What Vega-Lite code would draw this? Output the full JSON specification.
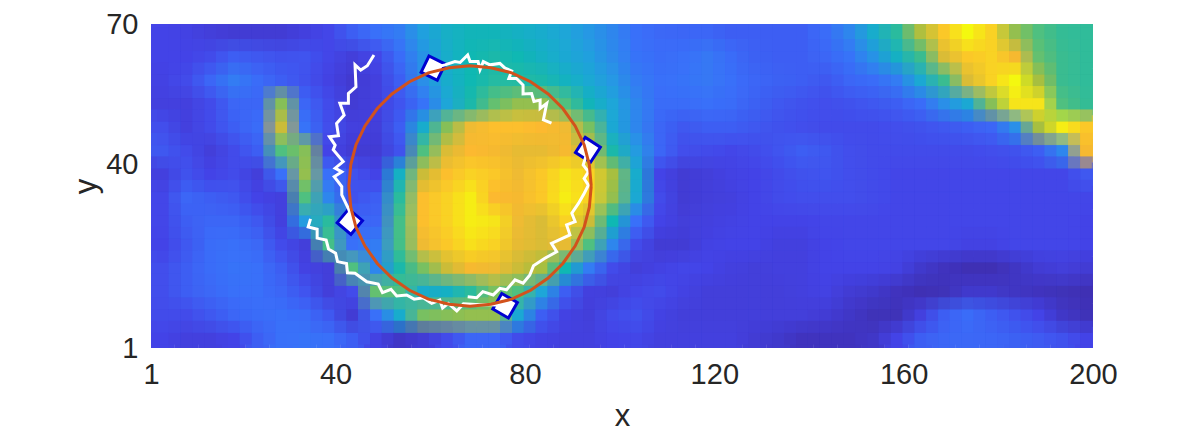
{"$schema":"https://vega.github.io/schema/vega-lite/v6.json","width":942,"height":324,"autosize":"none","padding":{"left":151,"top":24,"right":103,"bottom":85},"background":"white","config":{"view":{"stroke":null},"axis":{"grid":false,"domain":false,"ticks":false,"labelFont":"Liberation Sans","titleFont":"Liberation Sans","labelFontSize":29,"titleFontSize":31,"titleFontWeight":"normal","labelColor":"#262626","titleColor":"#262626","labelOverlap":false,"labelFlush":false}},
"datasets":{"heat":[
{"x":3.5,"y":68,"v":12},{"x":8.5,"y":68,"v":11},{"x":13.5,"y":68,"v":9},{"x":18.5,"y":68,"v":8},{"x":23.5,"y":68,"v":8},{"x":28.5,"y":68,"v":8},{"x":33.5,"y":68,"v":10},{"x":38.5,"y":68,"v":13},{"x":43.5,"y":68,"v":20},{"x":48.5,"y":68,"v":25},{"x":53.5,"y":68,"v":28},{"x":58.5,"y":68,"v":36},{"x":63.5,"y":68,"v":44},{"x":68.5,"y":68,"v":48},{"x":73.5,"y":68,"v":48},{"x":78.5,"y":68,"v":45},{"x":83.5,"y":68,"v":42},{"x":88.5,"y":68,"v":38},{"x":93.5,"y":68,"v":34},{"x":98.5,"y":68,"v":30},{"x":103.5,"y":68,"v":25},{"x":108.5,"y":68,"v":23},{"x":113.5,"y":68,"v":22},{"x":118.5,"y":68,"v":22},{"x":123.5,"y":68,"v":20},{"x":128.5,"y":68,"v":20},{"x":133.5,"y":68,"v":20},{"x":138.5,"y":68,"v":20},{"x":143.5,"y":68,"v":24},{"x":148.5,"y":68,"v":30},{"x":153.5,"y":68,"v":42},{"x":158.5,"y":68,"v":55},{"x":163.5,"y":68,"v":76},{"x":168.5,"y":68,"v":90},{"x":173.5,"y":68,"v":100},{"x":178.5,"y":68,"v":92},{"x":183.5,"y":68,"v":72},{"x":188.5,"y":68,"v":62},{"x":193.5,"y":68,"v":57},{"x":198.5,"y":68,"v":56},
{"x":3.5,"y":63,"v":12},{"x":8.5,"y":63,"v":12},{"x":13.5,"y":63,"v":14},{"x":18.5,"y":63,"v":20},{"x":23.5,"y":63,"v":18},{"x":28.5,"y":63,"v":16},{"x":33.5,"y":63,"v":17},{"x":38.5,"y":63,"v":13},{"x":43.5,"y":63,"v":9},{"x":48.5,"y":63,"v":13},{"x":53.5,"y":63,"v":24},{"x":58.5,"y":63,"v":33},{"x":63.5,"y":63,"v":43},{"x":68.5,"y":63,"v":50},{"x":73.5,"y":63,"v":52},{"x":78.5,"y":63,"v":50},{"x":83.5,"y":63,"v":45},{"x":88.5,"y":63,"v":40},{"x":93.5,"y":63,"v":36},{"x":98.5,"y":63,"v":31},{"x":103.5,"y":63,"v":26},{"x":108.5,"y":63,"v":24},{"x":113.5,"y":63,"v":25},{"x":118.5,"y":63,"v":27},{"x":123.5,"y":63,"v":24},{"x":128.5,"y":63,"v":21},{"x":133.5,"y":63,"v":20},{"x":138.5,"y":63,"v":20},{"x":143.5,"y":63,"v":22},{"x":148.5,"y":63,"v":26},{"x":153.5,"y":63,"v":33},{"x":158.5,"y":63,"v":45},{"x":163.5,"y":63,"v":58},{"x":168.5,"y":63,"v":82},{"x":173.5,"y":63,"v":90},{"x":178.5,"y":63,"v":92},{"x":183.5,"y":63,"v":86},{"x":188.5,"y":63,"v":65},{"x":193.5,"y":63,"v":58},{"x":198.5,"y":63,"v":56},
{"x":3.5,"y":58,"v":11},{"x":8.5,"y":58,"v":14},{"x":13.5,"y":58,"v":22},{"x":18.5,"y":58,"v":28},{"x":23.5,"y":58,"v":24},{"x":28.5,"y":58,"v":20},{"x":33.5,"y":58,"v":16},{"x":38.5,"y":58,"v":11},{"x":43.5,"y":58,"v":7},{"x":48.5,"y":58,"v":10},{"x":53.5,"y":58,"v":20},{"x":58.5,"y":58,"v":32},{"x":63.5,"y":58,"v":42},{"x":68.5,"y":58,"v":50},{"x":73.5,"y":58,"v":54},{"x":78.5,"y":58,"v":54},{"x":83.5,"y":58,"v":52},{"x":88.5,"y":58,"v":46},{"x":93.5,"y":58,"v":40},{"x":98.5,"y":58,"v":34},{"x":103.5,"y":58,"v":28},{"x":108.5,"y":58,"v":25},{"x":113.5,"y":58,"v":26},{"x":118.5,"y":58,"v":27},{"x":123.5,"y":58,"v":25},{"x":128.5,"y":58,"v":22},{"x":133.5,"y":58,"v":21},{"x":138.5,"y":58,"v":20},{"x":143.5,"y":58,"v":18},{"x":148.5,"y":58,"v":22},{"x":153.5,"y":58,"v":24},{"x":158.5,"y":58,"v":28},{"x":163.5,"y":58,"v":40},{"x":168.5,"y":58,"v":58},{"x":173.5,"y":58,"v":82},{"x":178.5,"y":58,"v":92},{"x":183.5,"y":58,"v":100},{"x":188.5,"y":58,"v":75},{"x":193.5,"y":58,"v":58},{"x":198.5,"y":58,"v":56},
{"x":3.5,"y":53,"v":10},{"x":8.5,"y":53,"v":10},{"x":13.5,"y":53,"v":14},{"x":18.5,"y":53,"v":22},{"x":23.5,"y":53,"v":22},{"x":28.5,"y":53,"v":70},{"x":33.5,"y":53,"v":22},{"x":38.5,"y":53,"v":14},{"x":43.5,"y":53,"v":8},{"x":48.5,"y":53,"v":10},{"x":53.5,"y":53,"v":17},{"x":58.5,"y":53,"v":26},{"x":63.5,"y":53,"v":38},{"x":68.5,"y":53,"v":52},{"x":73.5,"y":53,"v":65},{"x":78.5,"y":53,"v":72},{"x":83.5,"y":53,"v":72},{"x":88.5,"y":53,"v":62},{"x":93.5,"y":53,"v":48},{"x":98.5,"y":53,"v":38},{"x":103.5,"y":53,"v":30},{"x":108.5,"y":53,"v":24},{"x":113.5,"y":53,"v":24},{"x":118.5,"y":53,"v":25},{"x":123.5,"y":53,"v":24},{"x":128.5,"y":53,"v":21},{"x":133.5,"y":53,"v":18},{"x":138.5,"y":53,"v":16},{"x":143.5,"y":53,"v":15},{"x":148.5,"y":53,"v":16},{"x":153.5,"y":53,"v":18},{"x":158.5,"y":53,"v":20},{"x":163.5,"y":53,"v":24},{"x":168.5,"y":53,"v":32},{"x":173.5,"y":53,"v":40},{"x":178.5,"y":53,"v":70},{"x":183.5,"y":53,"v":96},{"x":188.5,"y":53,"v":96},{"x":193.5,"y":53,"v":62},{"x":198.5,"y":53,"v":57},
{"x":3.5,"y":48,"v":15},{"x":8.5,"y":48,"v":10},{"x":13.5,"y":48,"v":14},{"x":18.5,"y":48,"v":20},{"x":23.5,"y":48,"v":24},{"x":28.5,"y":48,"v":80},{"x":33.5,"y":48,"v":26},{"x":38.5,"y":48,"v":15},{"x":43.5,"y":48,"v":10},{"x":48.5,"y":48,"v":9},{"x":53.5,"y":48,"v":20},{"x":58.5,"y":48,"v":42},{"x":63.5,"y":48,"v":70},{"x":68.5,"y":48,"v":85},{"x":73.5,"y":48,"v":88},{"x":78.5,"y":48,"v":88},{"x":83.5,"y":48,"v":87},{"x":88.5,"y":48,"v":85},{"x":93.5,"y":48,"v":68},{"x":98.5,"y":48,"v":40},{"x":103.5,"y":48,"v":30},{"x":108.5,"y":48,"v":22},{"x":113.5,"y":48,"v":18},{"x":118.5,"y":48,"v":20},{"x":123.5,"y":48,"v":20},{"x":128.5,"y":48,"v":18},{"x":133.5,"y":48,"v":16},{"x":138.5,"y":48,"v":15},{"x":143.5,"y":48,"v":14},{"x":148.5,"y":48,"v":14},{"x":153.5,"y":48,"v":14},{"x":158.5,"y":48,"v":15},{"x":163.5,"y":48,"v":16},{"x":168.5,"y":48,"v":18},{"x":173.5,"y":48,"v":20},{"x":178.5,"y":48,"v":22},{"x":183.5,"y":48,"v":32},{"x":188.5,"y":48,"v":75},{"x":193.5,"y":48,"v":98},{"x":198.5,"y":48,"v":90},
{"x":3.5,"y":43,"v":18},{"x":8.5,"y":43,"v":14},{"x":13.5,"y":43,"v":9},{"x":18.5,"y":43,"v":14},{"x":23.5,"y":43,"v":20},{"x":28.5,"y":43,"v":62},{"x":33.5,"y":43,"v":70},{"x":38.5,"y":43,"v":12},{"x":43.5,"y":43,"v":8},{"x":48.5,"y":43,"v":8},{"x":53.5,"y":43,"v":16},{"x":58.5,"y":43,"v":62},{"x":63.5,"y":43,"v":82},{"x":68.5,"y":43,"v":87},{"x":73.5,"y":43,"v":86},{"x":78.5,"y":43,"v":84},{"x":83.5,"y":43,"v":84},{"x":88.5,"y":43,"v":86},{"x":93.5,"y":43,"v":80},{"x":98.5,"y":43,"v":52},{"x":103.5,"y":43,"v":35},{"x":108.5,"y":43,"v":22},{"x":113.5,"y":43,"v":15},{"x":118.5,"y":43,"v":14},{"x":123.5,"y":43,"v":13},{"x":128.5,"y":43,"v":14},{"x":133.5,"y":43,"v":17},{"x":138.5,"y":43,"v":20},{"x":143.5,"y":43,"v":18},{"x":148.5,"y":43,"v":15},{"x":153.5,"y":43,"v":14},{"x":158.5,"y":43,"v":14},{"x":163.5,"y":43,"v":14},{"x":168.5,"y":43,"v":14},{"x":173.5,"y":43,"v":14},{"x":178.5,"y":43,"v":15},{"x":183.5,"y":43,"v":16},{"x":188.5,"y":43,"v":20},{"x":193.5,"y":43,"v":30},{"x":198.5,"y":43,"v":86},
{"x":3.5,"y":38,"v":10},{"x":8.5,"y":38,"v":16},{"x":13.5,"y":38,"v":12},{"x":18.5,"y":38,"v":14},{"x":23.5,"y":38,"v":9},{"x":28.5,"y":38,"v":25},{"x":33.5,"y":38,"v":72},{"x":38.5,"y":38,"v":25},{"x":43.5,"y":38,"v":16},{"x":48.5,"y":38,"v":12},{"x":53.5,"y":38,"v":45},{"x":58.5,"y":38,"v":80},{"x":63.5,"y":38,"v":88},{"x":68.5,"y":38,"v":92},{"x":73.5,"y":38,"v":90},{"x":78.5,"y":38,"v":85},{"x":83.5,"y":38,"v":90},{"x":88.5,"y":38,"v":96},{"x":93.5,"y":38,"v":92},{"x":98.5,"y":38,"v":75},{"x":103.5,"y":38,"v":42},{"x":108.5,"y":38,"v":12},{"x":113.5,"y":38,"v":8},{"x":118.5,"y":38,"v":9},{"x":123.5,"y":38,"v":11},{"x":128.5,"y":38,"v":12},{"x":133.5,"y":38,"v":14},{"x":138.5,"y":38,"v":16},{"x":143.5,"y":38,"v":17},{"x":148.5,"y":38,"v":15},{"x":153.5,"y":38,"v":14},{"x":158.5,"y":38,"v":13},{"x":163.5,"y":38,"v":13},{"x":168.5,"y":38,"v":13},{"x":173.5,"y":38,"v":13},{"x":178.5,"y":38,"v":13},{"x":183.5,"y":38,"v":13},{"x":188.5,"y":38,"v":13},{"x":193.5,"y":38,"v":13},{"x":198.5,"y":38,"v":18},
{"x":3.5,"y":33,"v":13},{"x":8.5,"y":33,"v":22},{"x":13.5,"y":33,"v":20},{"x":18.5,"y":33,"v":18},{"x":23.5,"y":33,"v":12},{"x":28.5,"y":33,"v":10},{"x":33.5,"y":33,"v":62},{"x":38.5,"y":33,"v":30},{"x":43.5,"y":33,"v":16},{"x":48.5,"y":33,"v":20},{"x":53.5,"y":33,"v":55},{"x":58.5,"y":33,"v":88},{"x":63.5,"y":33,"v":92},{"x":68.5,"y":33,"v":98},{"x":73.5,"y":33,"v":87},{"x":78.5,"y":33,"v":86},{"x":83.5,"y":33,"v":90},{"x":88.5,"y":33,"v":98},{"x":93.5,"y":33,"v":92},{"x":98.5,"y":33,"v":72},{"x":103.5,"y":33,"v":40},{"x":108.5,"y":33,"v":14},{"x":113.5,"y":33,"v":8},{"x":118.5,"y":33,"v":9},{"x":123.5,"y":33,"v":10},{"x":128.5,"y":33,"v":12},{"x":133.5,"y":33,"v":14},{"x":138.5,"y":33,"v":15},{"x":143.5,"y":33,"v":15},{"x":148.5,"y":33,"v":15},{"x":153.5,"y":33,"v":14},{"x":158.5,"y":33,"v":13},{"x":163.5,"y":33,"v":13},{"x":168.5,"y":33,"v":13},{"x":173.5,"y":33,"v":13},{"x":178.5,"y":33,"v":13},{"x":183.5,"y":33,"v":13},{"x":188.5,"y":33,"v":13},{"x":193.5,"y":33,"v":13},{"x":198.5,"y":33,"v":13},
{"x":3.5,"y":28,"v":13},{"x":8.5,"y":28,"v":20},{"x":13.5,"y":28,"v":22},{"x":18.5,"y":28,"v":22},{"x":23.5,"y":28,"v":18},{"x":28.5,"y":28,"v":10},{"x":33.5,"y":28,"v":35},{"x":38.5,"y":28,"v":55},{"x":43.5,"y":28,"v":22},{"x":48.5,"y":28,"v":22},{"x":53.5,"y":28,"v":60},{"x":58.5,"y":28,"v":88},{"x":63.5,"y":28,"v":92},{"x":68.5,"y":28,"v":98},{"x":73.5,"y":28,"v":96},{"x":78.5,"y":28,"v":85},{"x":83.5,"y":28,"v":82},{"x":88.5,"y":28,"v":92},{"x":93.5,"y":28,"v":80},{"x":98.5,"y":28,"v":50},{"x":103.5,"y":28,"v":25},{"x":108.5,"y":28,"v":12},{"x":113.5,"y":28,"v":9},{"x":118.5,"y":28,"v":10},{"x":123.5,"y":28,"v":11},{"x":128.5,"y":28,"v":12},{"x":133.5,"y":28,"v":12},{"x":138.5,"y":28,"v":12},{"x":143.5,"y":28,"v":13},{"x":148.5,"y":28,"v":13},{"x":153.5,"y":28,"v":13},{"x":158.5,"y":28,"v":13},{"x":163.5,"y":28,"v":13},{"x":168.5,"y":28,"v":13},{"x":173.5,"y":28,"v":13},{"x":178.5,"y":28,"v":13},{"x":183.5,"y":28,"v":13},{"x":188.5,"y":28,"v":13},{"x":193.5,"y":28,"v":13},{"x":198.5,"y":28,"v":12},
{"x":3.5,"y":23,"v":12},{"x":8.5,"y":23,"v":18},{"x":13.5,"y":23,"v":24},{"x":18.5,"y":23,"v":25},{"x":23.5,"y":23,"v":23},{"x":28.5,"y":23,"v":14},{"x":33.5,"y":23,"v":9},{"x":38.5,"y":23,"v":60},{"x":43.5,"y":23,"v":25},{"x":48.5,"y":23,"v":28},{"x":53.5,"y":23,"v":60},{"x":58.5,"y":23,"v":85},{"x":63.5,"y":23,"v":90},{"x":68.5,"y":23,"v":95},{"x":73.5,"y":23,"v":92},{"x":78.5,"y":23,"v":84},{"x":83.5,"y":23,"v":82},{"x":88.5,"y":23,"v":84},{"x":93.5,"y":23,"v":62},{"x":98.5,"y":23,"v":30},{"x":103.5,"y":23,"v":14},{"x":108.5,"y":23,"v":8},{"x":113.5,"y":23,"v":8},{"x":118.5,"y":23,"v":11},{"x":123.5,"y":23,"v":12},{"x":128.5,"y":23,"v":12},{"x":133.5,"y":23,"v":10},{"x":138.5,"y":23,"v":10},{"x":143.5,"y":23,"v":12},{"x":148.5,"y":23,"v":13},{"x":153.5,"y":23,"v":13},{"x":158.5,"y":23,"v":13},{"x":163.5,"y":23,"v":13},{"x":168.5,"y":23,"v":13},{"x":173.5,"y":23,"v":11},{"x":178.5,"y":23,"v":11},{"x":183.5,"y":23,"v":13},{"x":188.5,"y":23,"v":13},{"x":193.5,"y":23,"v":13},{"x":198.5,"y":23,"v":12},
{"x":3.5,"y":18,"v":15},{"x":8.5,"y":18,"v":20},{"x":13.5,"y":18,"v":24},{"x":18.5,"y":18,"v":26},{"x":23.5,"y":18,"v":25},{"x":28.5,"y":18,"v":20},{"x":33.5,"y":18,"v":11},{"x":38.5,"y":18,"v":9},{"x":43.5,"y":18,"v":62},{"x":48.5,"y":18,"v":30},{"x":53.5,"y":18,"v":52},{"x":58.5,"y":18,"v":68},{"x":63.5,"y":18,"v":80},{"x":68.5,"y":18,"v":86},{"x":73.5,"y":18,"v":85},{"x":78.5,"y":18,"v":80},{"x":83.5,"y":18,"v":75},{"x":88.5,"y":18,"v":50},{"x":93.5,"y":18,"v":28},{"x":98.5,"y":18,"v":14},{"x":103.5,"y":18,"v":9},{"x":108.5,"y":18,"v":11},{"x":113.5,"y":18,"v":13},{"x":118.5,"y":18,"v":12},{"x":123.5,"y":18,"v":10},{"x":128.5,"y":18,"v":9},{"x":133.5,"y":18,"v":10},{"x":138.5,"y":18,"v":10},{"x":143.5,"y":18,"v":12},{"x":148.5,"y":18,"v":12},{"x":153.5,"y":18,"v":12},{"x":158.5,"y":18,"v":11},{"x":163.5,"y":18,"v":6},{"x":168.5,"y":18,"v":3},{"x":173.5,"y":18,"v":1},{"x":178.5,"y":18,"v":1},{"x":183.5,"y":18,"v":4},{"x":188.5,"y":18,"v":8},{"x":193.5,"y":18,"v":9},{"x":198.5,"y":18,"v":8},
{"x":3.5,"y":13,"v":15},{"x":8.5,"y":13,"v":20},{"x":13.5,"y":13,"v":23},{"x":18.5,"y":13,"v":25},{"x":23.5,"y":13,"v":25},{"x":28.5,"y":13,"v":22},{"x":33.5,"y":13,"v":17},{"x":38.5,"y":13,"v":9},{"x":43.5,"y":13,"v":14},{"x":48.5,"y":13,"v":65},{"x":53.5,"y":13,"v":62},{"x":58.5,"y":13,"v":42},{"x":63.5,"y":13,"v":45},{"x":68.5,"y":13,"v":55},{"x":73.5,"y":13,"v":68},{"x":78.5,"y":13,"v":62},{"x":83.5,"y":13,"v":38},{"x":88.5,"y":13,"v":20},{"x":93.5,"y":13,"v":10},{"x":98.5,"y":13,"v":9},{"x":103.5,"y":13,"v":13},{"x":108.5,"y":13,"v":14},{"x":113.5,"y":13,"v":11},{"x":118.5,"y":13,"v":9},{"x":123.5,"y":13,"v":9},{"x":128.5,"y":13,"v":9},{"x":133.5,"y":13,"v":9},{"x":138.5,"y":13,"v":10},{"x":143.5,"y":13,"v":11},{"x":148.5,"y":13,"v":8},{"x":153.5,"y":13,"v":6},{"x":158.5,"y":13,"v":3},{"x":163.5,"y":13,"v":1},{"x":168.5,"y":13,"v":2},{"x":173.5,"y":13,"v":6},{"x":178.5,"y":13,"v":6},{"x":183.5,"y":13,"v":4},{"x":188.5,"y":13,"v":3},{"x":193.5,"y":13,"v":2},{"x":198.5,"y":13,"v":1},
{"x":3.5,"y":8,"v":14},{"x":8.5,"y":8,"v":14},{"x":13.5,"y":8,"v":18},{"x":18.5,"y":8,"v":22},{"x":23.5,"y":8,"v":24},{"x":28.5,"y":8,"v":25},{"x":33.5,"y":8,"v":24},{"x":38.5,"y":8,"v":18},{"x":43.5,"y":8,"v":8},{"x":48.5,"y":8,"v":25},{"x":53.5,"y":8,"v":42},{"x":58.5,"y":8,"v":68},{"x":63.5,"y":8,"v":70},{"x":68.5,"y":8,"v":72},{"x":73.5,"y":8,"v":72},{"x":78.5,"y":8,"v":40},{"x":83.5,"y":8,"v":20},{"x":88.5,"y":8,"v":11},{"x":93.5,"y":8,"v":9},{"x":98.5,"y":8,"v":14},{"x":103.5,"y":8,"v":16},{"x":108.5,"y":8,"v":11},{"x":113.5,"y":8,"v":9},{"x":118.5,"y":8,"v":9},{"x":123.5,"y":8,"v":9},{"x":128.5,"y":8,"v":9},{"x":133.5,"y":8,"v":9},{"x":138.5,"y":8,"v":9},{"x":143.5,"y":8,"v":8},{"x":148.5,"y":8,"v":5},{"x":153.5,"y":8,"v":2},{"x":158.5,"y":8,"v":2},{"x":163.5,"y":8,"v":10},{"x":168.5,"y":8,"v":20},{"x":173.5,"y":8,"v":24},{"x":178.5,"y":8,"v":20},{"x":183.5,"y":8,"v":16},{"x":188.5,"y":8,"v":12},{"x":193.5,"y":8,"v":5},{"x":198.5,"y":8,"v":2},
{"x":3.5,"y":3,"v":12},{"x":8.5,"y":3,"v":10},{"x":13.5,"y":3,"v":10},{"x":18.5,"y":3,"v":12},{"x":23.5,"y":3,"v":20},{"x":28.5,"y":3,"v":25},{"x":33.5,"y":3,"v":26},{"x":38.5,"y":3,"v":25},{"x":43.5,"y":3,"v":20},{"x":48.5,"y":3,"v":11},{"x":53.5,"y":3,"v":5},{"x":58.5,"y":3,"v":8},{"x":63.5,"y":3,"v":14},{"x":68.5,"y":3,"v":22},{"x":73.5,"y":3,"v":22},{"x":78.5,"y":3,"v":14},{"x":83.5,"y":3,"v":11},{"x":88.5,"y":3,"v":10},{"x":93.5,"y":3,"v":10},{"x":98.5,"y":3,"v":12},{"x":103.5,"y":3,"v":13},{"x":108.5,"y":3,"v":10},{"x":113.5,"y":3,"v":10},{"x":118.5,"y":3,"v":10},{"x":123.5,"y":3,"v":10},{"x":128.5,"y":3,"v":8},{"x":133.5,"y":3,"v":6},{"x":138.5,"y":3,"v":3},{"x":143.5,"y":3,"v":3},{"x":148.5,"y":3,"v":3},{"x":153.5,"y":3,"v":5},{"x":158.5,"y":3,"v":12},{"x":163.5,"y":3,"v":20},{"x":168.5,"y":3,"v":22},{"x":173.5,"y":3,"v":23},{"x":178.5,"y":3,"v":22},{"x":183.5,"y":3,"v":21},{"x":188.5,"y":3,"v":19},{"x":193.5,"y":3,"v":16},{"x":198.5,"y":3,"v":12}
],
"traj":[
{"id":1,"x":48.1,"y":63.4},{"id":1,"x":46.7,"y":61.1},{"id":1,"x":45.3,"y":60.2},{"id":1,"x":44.1,"y":61.3},{"id":1,"x":44.3,"y":56.6},{"id":1,"x":42.7,"y":55.2},{"id":1,"x":42.7,"y":53.1},{"id":1,"x":40.9,"y":53.1},{"id":1,"x":41.8,"y":50.6},{"id":1,"x":40.2,"y":48.8},{"id":1,"x":40.6,"y":46.2},{"id":1,"x":38.7,"y":46},{"id":1,"x":39.9,"y":44.2},{"id":1,"x":39.5,"y":43.2},{"id":1,"x":41.6,"y":40.7},{"id":1,"x":39.9,"y":39.3},{"id":1,"x":41.3,"y":38.5},{"id":1,"x":39.7,"y":37.5},{"id":1,"x":41.3,"y":35.4},{"id":1,"x":41.3,"y":33.6},{"id":1,"x":42.7,"y":30.7},{"id":1,"x":43.3,"y":29},
{"id":2,"x":34.7,"y":28.5},{"id":2,"x":34.2,"y":26.8},{"id":2,"x":36.1,"y":26.3},{"id":2,"x":36.1,"y":24.4},{"id":2,"x":38,"y":24},{"id":2,"x":38.5,"y":22.1},{"id":2,"x":40,"y":21.2},{"id":2,"x":40.4,"y":19.4},{"id":2,"x":42.3,"y":19},{"id":2,"x":42.5,"y":17},{"id":2,"x":44.1,"y":16.9},{"id":2,"x":46.6,"y":15.1},{"id":2,"x":49,"y":14.6},{"id":2,"x":49.9,"y":12.8},{"id":2,"x":51.7,"y":13.5},{"id":2,"x":52.9,"y":12.1},{"id":2,"x":55,"y":12.3},{"id":2,"x":56.6,"y":11.4},{"id":2,"x":58.5,"y":11.7},{"id":2,"x":60.3,"y":10.5},{"id":2,"x":62,"y":11.2},{"id":2,"x":62.6,"y":9.5},{"id":2,"x":63.8,"y":10.5},{"id":2,"x":65.6,"y":8.9},{"id":2,"x":67,"y":10.4},{"id":2,"x":70.5,"y":10.2},{"id":2,"x":73,"y":10.2},{"id":2,"x":75.8,"y":10},
{"id":3,"x":67.9,"y":11.9},{"id":3,"x":69.8,"y":11.7},{"id":3,"x":71.1,"y":13},{"id":3,"x":73.3,"y":12.3},{"id":3,"x":74.7,"y":13.7},{"id":3,"x":76.1,"y":13.4},{"id":3,"x":77.9,"y":15.5},{"id":3,"x":79.6,"y":14.8},{"id":3,"x":81,"y":16.5},{"id":3,"x":81.8,"y":18.5},{"id":3,"x":84.2,"y":20.1},{"id":3,"x":86.7,"y":21.5},{"id":3,"x":85.6,"y":23.3},{"id":3,"x":89.5,"y":25.1},{"id":3,"x":88.8,"y":27.2},{"id":3,"x":90.6,"y":27.9},{"id":3,"x":89.9,"y":29.7},{"id":3,"x":91.3,"y":31.8},{"id":3,"x":92.5,"y":33.9},{"id":3,"x":93.4,"y":35.7},{"id":3,"x":92.5,"y":37.1},{"id":3,"x":93.4,"y":38.5},{"id":3,"x":92.3,"y":40},{"id":3,"x":93.3,"y":43.2},
{"id":4,"x":60.6,"y":60.6},{"id":4,"x":63.1,"y":61.3},{"id":4,"x":65.2,"y":62},{"id":4,"x":66.3,"y":61.8},{"id":4,"x":67.9,"y":63.4},{"id":4,"x":68.4,"y":62},{"id":4,"x":70.1,"y":62},{"id":4,"x":70.5,"y":60.3},{"id":4,"x":71.2,"y":62},{"id":4,"x":72.6,"y":61.3},{"id":4,"x":74.7,"y":61.6},{"id":4,"x":75.8,"y":60.6},{"id":4,"x":77.2,"y":60},{"id":4,"x":76.6,"y":58.4},{"id":4,"x":78.2,"y":58.4},{"id":4,"x":79.6,"y":57},{"id":4,"x":79.6,"y":55.1},{"id":4,"x":81.4,"y":55.2},{"id":4,"x":81.9,"y":53.5},{"id":4,"x":83.2,"y":53.8},{"id":4,"x":83.2,"y":52},{"id":4,"x":84.6,"y":53.1},{"id":4,"x":83.9,"y":49.6},{"id":4,"x":85.6,"y":48.9}
],
"circle":[
{"x":94,"y":35.5},{"x":93.6,"y":40},{"x":92.5,"y":44.3},{"x":90.6,"y":48.3},{"x":88,"y":52},{"x":84.9,"y":55.1},{"x":81.2,"y":57.7},{"x":77.2,"y":59.6},{"x":72.8,"y":60.7},{"x":68.4,"y":61.1},{"x":64,"y":60.7},{"x":59.6,"y":59.6},{"x":55.6,"y":57.7},{"x":51.9,"y":55.1},{"x":48.8,"y":52},{"x":46.2,"y":48.3},{"x":44.3,"y":44.3},{"x":43.2,"y":40},{"x":42.8,"y":35.5},{"x":43.2,"y":31},{"x":44.3,"y":26.7},{"x":46.2,"y":22.7},{"x":48.8,"y":19},{"x":51.9,"y":15.9},{"x":55.6,"y":13.3},{"x":59.6,"y":11.4},{"x":64,"y":10.3},{"x":68.4,"y":9.9},{"x":72.8,"y":10.3},{"x":77.2,"y":11.4},{"x":81.2,"y":13.3},{"x":84.9,"y":15.9},{"x":88,"y":19},{"x":90.6,"y":22.7},{"x":92.5,"y":26.7},{"x":93.6,"y":31},{"x":94,"y":35.5}
],
"probes":[{"x":60.6,"y":60.6,"heading":26},{"x":93.3,"y":43.2,"heading":33},{"x":75.8,"y":10,"heading":30},{"x":43,"y":27.9,"heading":40}]},
"encoding":{"x":{"field":"x","type":"quantitative","title":"x","scale":{"domain":[1,200],"nice":false,"zero":false},"axis":{"values":[1,40,80,120,160,200],"labelPadding":12,"titlePadding":12}},"y":{"field":"y","type":"quantitative","title":"y","scale":{"domain":[1,70],"nice":false,"zero":false},"axis":{"values":[1,40,70],"labelPadding":13,"titlePadding":3}}},
"layer":[
{"data":{"name":"heat"},"mark":{"type":"point","shape":"square","filled":true,"size":562,"opacity":1,"clip":true},"encoding":{"color":{"field":"v","type":"quantitative","legend":null,"scale":{"domain":[0,12,25,37,50,62,75,87,100],"range":["#3e2fb0","#4444e8","#3a70fa","#1fa5dc","#10b8b4","#50c080","#a8bf40","#fdba30","#f5f810"],"interpolate":"rgb"}}}},
{"data":{"name":"heat"},"mark":{"type":"point","shape":"square","filled":true,"size":562,"opacity":1,"clip":true,"xOffset":-6,"yOffset":-6},"encoding":{"color":{"field":"v","type":"quantitative","legend":null}}},
{"data":{"name":"heat"},"mark":{"type":"point","shape":"square","filled":true,"size":562,"opacity":0.5,"clip":true,"xOffset":6,"yOffset":-6},"encoding":{"color":{"field":"v","type":"quantitative","legend":null}}},
{"data":{"name":"heat"},"mark":{"type":"point","shape":"square","filled":true,"size":562,"opacity":0.33,"clip":true,"xOffset":-6,"yOffset":6},"encoding":{"color":{"field":"v","type":"quantitative","legend":null}}},
{"data":{"name":"heat"},"mark":{"type":"point","shape":"square","filled":true,"size":562,"opacity":0.25,"clip":true,"xOffset":6,"yOffset":6},"encoding":{"color":{"field":"v","type":"quantitative","legend":null}}},
{"data":{"name":"probes"},"mark":{"type":"point","shape":"square","filled":true,"size":324,"opacity":1,"fill":"white","stroke":"#0000d0","strokeWidth":3},"encoding":{"angle":{"field":"heading","type":"quantitative","scale":null}}},
{"data":{"name":"traj"},"transform":[{"window":[{"op":"row_number","as":"t"}]}],"mark":{"type":"line","color":"white","strokeWidth":3,"strokeJoin":"miter"},"encoding":{"detail":{"field":"id"},"order":{"field":"t","type":"quantitative"}}},
{"data":{"name":"circle"},"transform":[{"window":[{"op":"row_number","as":"t"}]}],"mark":{"type":"line","color":"#d2521c","strokeWidth":3},"encoding":{"order":{"field":"t","type":"quantitative"}}}
]}
